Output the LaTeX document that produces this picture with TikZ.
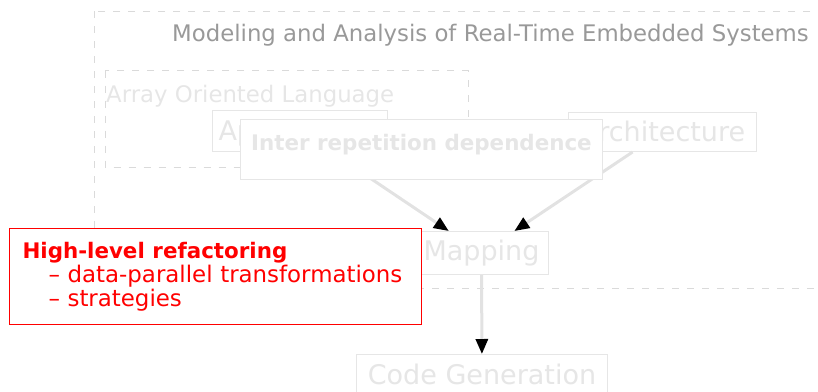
\documentclass[tikz,border=0pt]{standalone}
\usepackage{fontspec}
\setmainfont{DejaVu Sans}
\usetikzlibrary{arrows.meta}

\definecolor{titlegray}{HTML}{999999}
\definecolor{palegray}{HTML}{E6E6E6}
\definecolor{framegray}{HTML}{DADADA}
\definecolor{wiregray}{HTML}{E2E2E2}
\definecolor{alertred}{HTML}{FF0000}

\tikzset{
  frame/.style={draw=framegray, line width=1pt, dash pattern=on 7pt off 8pt},
  caption/.style={inner sep=0pt, anchor=base west},
  stagebox/.style={draw=palegray, line width=1pt, fill=white, text=palegray,
    inner sep=0pt, anchor=north west, font=\fontsize{27}{32}\selectfont},
  conn/.style={draw=wiregray, line width=3pt,
    -{Triangle[length=15pt,width=12pt,color=black]}},
}

\begin{document}
\begin{tikzpicture}[x=1pt,y=-1pt]
  \useasboundingbox (0,0) rectangle (818,391);

  % grouping frames
  \draw[frame] (94,11) rectangle (850,288);
  \draw[frame] (105,70.5) rectangle (468,167);

  \node[caption, text=titlegray, font=\fontsize{22.8}{27}\selectfont]
    (title) at (172,41) {Modeling and Analysis of Real-Time Embedded Systems};
  \node[caption, text=palegray, font=\fontsize{22.8}{27}\selectfont]
    (aol) at (106,102.5) {Array Oriented Language};

  % model inputs
  \node[stagebox, minimum width=175pt, text width=163pt, inner xsep=6pt,
        align=left, text height=30pt, text depth=11pt]
    (app) at (212,110) {Application};
  \node[stagebox, minimum width=188pt, text height=29pt, text depth=10pt]
    (arch) at (568,112) {Architecture};

  % mapping and code generation
  \node[stagebox, minimum width=134pt, text height=29pt, text depth=14pt]
    (map) at (414,231) {Mapping};
  \node[stagebox, minimum width=251pt, text height=30pt, text depth=16pt]
    (code) at (356,354) {Code Generation};

  \draw[conn] (app) -- (map);
  \draw[conn] (arch) -- (map);
  \draw[conn] (map) -- (code);

  % overlay boxes
  \node[stagebox, minimum width=362pt, text height=31.5pt, text depth=28.5pt,
        font=\bfseries\fontsize{21.4}{26}\selectfont]
    (inter) at (240,118.5) {Inter repetition dependence};

  \node[draw=alertred, line width=1pt, fill=white, text=alertred,
        anchor=north west, inner ysep=0pt, inner xsep=13pt,
        text width=386pt, align=left, text height=30pt, text depth=66pt,
        font=\fontsize{22.9}{24}\selectfont]
    (refactor) at (9,228)
    {{\bfseries\fontsize{21.4}{24}\selectfont High-level refactoring}\\
     \hspace*{26pt}\textendash{} data-parallel transformations\\
     \hspace*{26pt}\textendash{} strategies};
\end{tikzpicture}
\end{document}
